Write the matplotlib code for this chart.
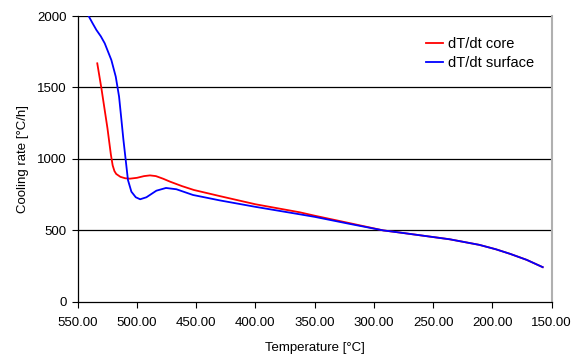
import matplotlib
matplotlib.use("Agg")
import matplotlib.pyplot as plt

plt.rcParams['font.family'] = ['Liberation Sans', 'DejaVu Sans']

# dT/dt core
core_t = [533.5, 530.0, 524.9, 522.0, 520.5, 519.0, 517.5, 514.0, 510.0,
          506.0, 500.0, 494.0, 489.0, 484.0, 478.0, 472.0, 462.0, 452.0, 430.0,
          400.0, 362.7, 350.0, 320.0, 292.0, 278.0, 236.0, 211.0, 197.0, 185.0,
          171.0, 157.5]
core_v = [1669, 1494, 1215, 1030, 955, 915, 895, 875, 865,
          862, 868, 880, 885, 880, 862, 841, 810, 783, 740,
          683, 627, 603, 550, 500, 485, 438, 399, 368, 336,
          294, 243]

# dT/dt surface
surf_t = [540.8, 537.5, 534.2, 530.5, 527.2, 521.6, 517.9, 515.1, 513.1, 511.5,
          509.5, 507.6, 504.7, 501.0, 497.3, 492.0, 483.6, 475.5, 466.7, 452.7,
          430.0, 400.0, 362.7, 350.0, 320.0, 292.0, 278.0, 236.0, 211.0, 197.0,
          185.0, 171.0, 157.5]
surf_v = [2000, 1950, 1902, 1858, 1809, 1692, 1576, 1436, 1273, 1140,
          993, 853, 771, 732, 718, 732, 778, 797, 788, 748,
          710, 665, 613, 595, 545, 500, 485, 438, 399, 368,
          336, 294, 243]

xticks = [550, 500, 450, 400, 350, 300, 250, 200, 150]
yticks = [0, 500, 1000, 1500, 2000]

fig = plt.figure(figsize=(5.8, 3.56), dpi=100)
ax = fig.add_axes([0.134, 0.152, 0.817, 0.803])

for y in yticks[1:]:
    ax.axhline(y, color='black', linewidth=0.9, zorder=1)

ax.plot(core_t, core_v, color='#ff0000', linewidth=1.3, label='dT/dt core', zorder=3)
ax.plot(surf_t, surf_v, color='#0000ff', linewidth=1.3, label='dT/dt surface', zorder=3)

ax.set_xlim(550, 150)
ax.set_ylim(0, 2000)
ax.set_xticks(xticks)
ax.set_xticklabels(['%.2f' % t for t in xticks])
ax.set_yticks(yticks)
ax.tick_params(labelsize=9.5, direction='out', length=4, width=0.8, color='black')
ax.tick_params(axis='x', pad=7)
ax.tick_params(axis='y', pad=4)

ax.spines['top'].set_visible(False)
ax.spines['right'].set_color('#b0b0b0')
ax.spines['right'].set_linewidth(1.5)
ax.spines['left'].set_linewidth(0.9)
ax.spines['bottom'].set_linewidth(0.9)

ax.set_xlabel('Temperature [°C]', fontsize=9.5, labelpad=9)
ax.set_ylabel('Cooling rate [°C/h]', fontsize=9.5, labelpad=6)

ax.legend(loc='upper right', bbox_to_anchor=(0.99, 0.972), frameon=False,
          fontsize=10.5, handlelength=1.2, handletextpad=0.3, labelspacing=0.35)

fig.savefig('out.png', dpi=100)
